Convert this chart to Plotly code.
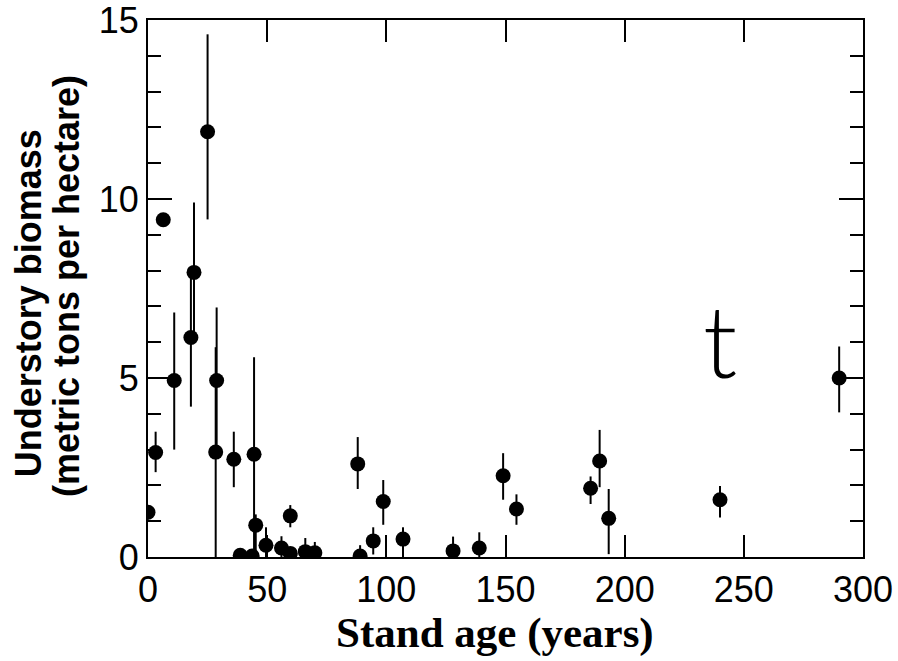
import plotly.graph_objects as go

# Stand age (years)
age = [0, 3.2, 6.4, 11, 18, 19.3, 25, 28.8, 28.4, 36, 38.7, 43.7, 44.5, 45.2,
       49.5, 56, 59.7, 59.7, 66, 70, 88, 89, 94.5, 98.7, 107, 128, 139, 149,
       154.6, 185.7, 189.5, 193.3, 240, 290]
# Understory biomass (metric tons per hectare)
biomass = [1.25, 2.92, 9.42, 4.93, 6.13, 7.95, 11.88, 4.93, 2.93, 2.73, 0.05,
           0.03, 2.87, 0.89, 0.33, 0.25, 1.15, 0.1, 0.15, 0.12, 2.6, 0.03,
           0.45, 1.55, 0.5, 0.17, 0.25, 2.27, 1.34, 1.92, 2.68, 1.08, 1.6, 5.0]
err_plus = [0.2, 0.58, 0, 1.9, 1.9, 1.95, 2.72, 2.04, 2.93, 0.77, 0, 0, 2.71,
            0.3, 0.5, 0.33, 0.3, 0, 0.38, 0.3, 0.75, 0.3, 0.38, 0.6, 0.33,
            0.4, 0.44, 0.63, 0.41, 0.33, 0.87, 0.82, 0.38, 0.88]
err_minus = [0.2, 0.55, 0, 1.93, 1.93, 1.95, 2.45, 2.0, 2.93, 0.78, 0, 0, 2.87,
             0.89, 0.33, 0.25, 0.32, 0, 0.15, 0.12, 0.7, 0, 0.38, 0.65, 0.5,
             0.17, 0.25, 0.67, 0.44, 0.44, 0.73, 1.0, 0.5, 0.96]

x_ticks = [0, 50, 100, 150, 200, 250, 300]
y_ticks = [0, 5, 10, 15]

SANS = "Liberation Sans, Arial, sans-serif"

fig = go.Figure()
fig.add_trace(go.Scatter(
    x=age, y=biomass, mode="markers",
    marker=dict(color="black", size=15, line=dict(width=0)),
    error_y=dict(type="data", symmetric=False, array=err_plus,
                 arrayminus=err_minus, width=0, thickness=2, color="black"),
    cliponaxis=True, showlegend=False,
))

fig.add_annotation(x=240, y=6.1, text="t", showarrow=False,
                   font=dict(family="Lato, Liberation Sans", weight=300,
                             size=100, color="black"))

# axis titles
fig.add_annotation(xref="paper", yref="paper", x=0.485, y=-0.1415,
                   text="<b>Stand age (years)</b>", showarrow=False,
                   xanchor="center", yanchor="middle",
                   font=dict(size=43, family="Liberation Serif, Times New Roman, serif",
                             color="black"))
fig.add_annotation(xref="paper", yref="paper", x=-0.166, y=0.473,
                   text="<b>Understory biomass</b>", showarrow=False, textangle=-90,
                   xanchor="center", yanchor="middle",
                   font=dict(size=36, family=SANS, color="black"))
fig.add_annotation(xref="paper", yref="paper", x=-0.113, y=0.505,
                   text="<b>(metric tons per hectare)</b>", showarrow=False, textangle=-90,
                   xanchor="center", yanchor="middle",
                   font=dict(size=36, family=SANS, color="black"))

fig.update_layout(
    width=898, height=661,
    margin=dict(l=148, r=35, t=20, b=104, autoexpand=False),
    plot_bgcolor="white", paper_bgcolor="white",
    font=dict(family=SANS, color="black"),
)
fig.update_xaxes(
    range=[0, 300], tickvals=x_ticks, ticktext=[str(v) for v in x_ticks],
    ticks="inside", ticklen=22, tickwidth=2, tickcolor="black",
    showline=True, linewidth=2, linecolor="black", mirror="ticks",
    showgrid=False, zeroline=False, automargin=False,
    ticklabeloverflow="allow",
    tickfont=dict(size=36, family=SANS),
)
fig.update_yaxes(
    range=[0, 15], tickvals=y_ticks, ticktext=[str(v) for v in y_ticks],
    ticks="inside", ticklen=24, tickwidth=2, tickcolor="black",
    minor=dict(dtick=1, ticks="inside", ticklen=13, tickwidth=2, tickcolor="black"),
    showline=True, linewidth=2, linecolor="black", mirror="ticks",
    showgrid=False, zeroline=False, automargin=False,
    ticklabeloverflow="allow",
    tickfont=dict(size=36, family=SANS),
)

fig.write_html("out.html", config={"displayModeBar": False},
               post_script="document.body.style.margin='0';document.body.style.padding='0';")
